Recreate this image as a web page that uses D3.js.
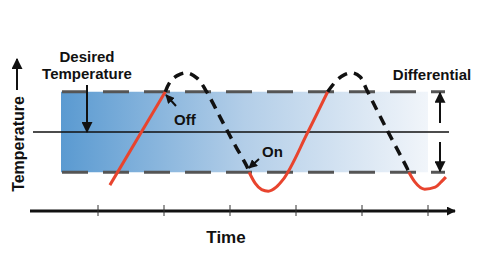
<!DOCTYPE html>
<html>
<head>
<meta charset="utf-8">
<script src="https://cdn.jsdelivr.net/npm/d3@7"></script>
<style>
  body { margin: 0; background: #fff; }
  svg { display: block; font-family: "Liberation Sans", Arial, sans-serif; font-weight: bold; }
</style>
</head>
<body>
<svg id="chart" width="480" height="270"></svg>
<script>
const w = 480;
const h = 270;

// time ticks on the axis
var timeTicks = [1, 2, 3, 4, 5, 6];

// band limits (temperature relative to set point)
var setPoint = 0;
var upperLimit = 1;
var lowerLimit = -1;

// heater on (red) and heater off (black dashed) segments: [time, temperature]
var heatOn1 = [[1.18, -1.32], [2.02, 1.0]];
var heatOff1 = [[2.02, 1.0], [2.09, 1.24], [2.2, 1.4], [2.35, 1.47], [2.5, 1.34], [2.65, 0.99], [2.85, 0.37], [3.05, -0.25], [3.26, -0.87], [3.29, -1.0]];
var heatOn2 = [[3.29, -1.0], [3.38, -1.27], [3.48, -1.43], [3.58, -1.47], [3.7, -1.37], [3.8, -1.19], [4.18, 0], [4.48, 1.0]];
var heatOff2 = [[4.48, 1.0], [4.62, 1.29], [4.73, 1.42], [4.85, 1.47], [4.97, 1.37], [5.08, 1.02], [5.38, 0.05], [5.68, -0.89], [5.71, -1.0]];
var heatOn3 = [[5.71, -1.0], [5.8, -1.24], [5.95, -1.42], [6.11, -1.37], [6.2, -1.24], [6.27, -1.12]];

var x = d3.scaleLinear().domain([0, 6.4]).range([32, 454.4]);
var y = d3.scaleLinear().domain([-1.6, 1.6]).range([196.4, 67.6]);

var svg = d3.select("#chart");

var defs = svg.append("defs");
var grad = defs.append("linearGradient").attr("id", "band").attr("x1", "0%").attr("x2", "100%");
grad.append("stop").attr("offset", "0%").attr("stop-color", "#5a9ad1");
grad.append("stop").attr("offset", "50%").attr("stop-color", "#b3cee8");
grad.append("stop").attr("offset", "100%").attr("stop-color", "#f1f5fa");

function marker(id, size) {
  defs.append("marker")
    .attr("id", id)
    .attr("viewBox", "0 0 10 10")
    .attr("refX", 9)
    .attr("refY", 5)
    .attr("markerUnits", "userSpaceOnUse")
    .attr("markerWidth", size)
    .attr("markerHeight", size)
    .attr("orient", "auto")
    .append("path")
    .attr("d", "M0,0 L10,5 L0,10 Z")
    .attr("fill", "#111");
}
marker("arrow", 11);
marker("arrowSmall", 9);
marker("arrowAxis", 9);

// band
svg.append("rect")
  .attr("x", 61)
  .attr("y", y(upperLimit))
  .attr("width", 428 - 61)
  .attr("height", y(lowerLimit) - y(upperLimit))
  .attr("fill", "url(#band)");

// band limit dashes
svg.selectAll("line.limit")
  .data([upperLimit, lowerLimit])
  .enter()
  .append("line")
  .attr("class", "limit")
  .attr("x1", 62)
  .attr("x2", 445)
  .attr("y1", function (d) { return y(d); })
  .attr("y2", function (d) { return y(d); })
  .attr("stroke", "#555")
  .attr("stroke-width", 3)
  .attr("stroke-dasharray", "26,15");

// set point line
svg.append("line")
  .attr("x1", 33).attr("x2", 449)
  .attr("y1", y(setPoint)).attr("y2", y(setPoint))
  .attr("stroke", "#111")
  .attr("stroke-width", 1.5);

// temperature curves
var line = d3.line()
  .x(function (d) { return x(d[0]); })
  .y(function (d) { return y(d[1]); })
  .curve(d3.curveMonotoneX);

svg.selectAll("path.on")
  .data([heatOn1, heatOn2, heatOn3])
  .enter()
  .append("path")
  .attr("class", "on")
  .attr("d", line)
  .attr("fill", "none")
  .attr("stroke", "#e8442e")
  .attr("stroke-width", 3);

var offLine = d3.line()
  .x(function (d) { return x(d[0]); })
  .y(function (d) { return y(d[1]); })
  .curve(d3.curveCatmullRom);

svg.selectAll("path.off")
  .data([heatOff1, heatOff2])
  .enter()
  .append("path")
  .attr("class", "off")
  .attr("d", offLine)
  .attr("fill", "none")
  .attr("stroke", "#111")
  .attr("stroke-width", 3.5)
  .attr("stroke-dasharray", "10,7");

// time axis
svg.append("line")
  .attr("x1", 30).attr("x2", 455)
  .attr("y1", 211).attr("y2", 211)
  .attr("stroke", "#111")
  .attr("stroke-width", 3)
  .attr("marker-end", "url(#arrowAxis)");

svg.selectAll("line.tick")
  .data(timeTicks)
  .enter()
  .append("line")
  .attr("class", "tick")
  .attr("x1", function (d) { return x(d); })
  .attr("x2", function (d) { return x(d); })
  .attr("y1", 205)
  .attr("y2", 216)
  .attr("stroke", "#333")
  .attr("stroke-width", 1);

svg.append("text")
  .text("Time")
  .attr("x", 226)
  .attr("y", 243)
  .attr("font-size", "17px")
  .attr("text-anchor", "middle")
  .attr("fill", "#111");

// temperature axis label
svg.append("text")
  .text("Temperature")
  .attr("transform", "translate(24,144) rotate(-90)")
  .attr("font-size", "16px")
  .attr("text-anchor", "middle")
  .attr("fill", "#111");

svg.append("line")
  .attr("x1", 17).attr("x2", 17)
  .attr("y1", 90).attr("y2", 59)
  .attr("stroke", "#111")
  .attr("stroke-width", 2)
  .attr("marker-end", "url(#arrow)");

// desired temperature
svg.append("text")
  .attr("font-size", "15px")
  .attr("text-anchor", "middle")
  .attr("fill", "#111")
  .selectAll("tspan")
  .data(["Desired", "Temperature"])
  .enter()
  .append("tspan")
  .attr("x", 87)
  .attr("y", function (d, i) { return 62 + i * 17; })
  .text(function (d) { return d; });

svg.append("line")
  .attr("x1", 87).attr("x2", 87)
  .attr("y1", 85).attr("y2", y(setPoint))
  .attr("stroke", "#111")
  .attr("stroke-width", 2)
  .attr("marker-end", "url(#arrow)");

// off / on labels
svg.append("text").text("Off")
  .attr("x", 174).attr("y", 125)
  .attr("font-size", "15px").attr("fill", "#111");
svg.append("line")
  .attr("x1", 176).attr("y1", 106)
  .attr("x2", 166).attr("y2", 95)
  .attr("stroke", "#111").attr("stroke-width", 2)
  .attr("marker-end", "url(#arrowSmall)");

svg.append("text").text("On")
  .attr("x", 262).attr("y", 157)
  .attr("font-size", "15px").attr("fill", "#111");
svg.append("line")
  .attr("x1", 259).attr("y1", 159)
  .attr("x2", 249).attr("y2", 168)
  .attr("stroke", "#111").attr("stroke-width", 2)
  .attr("marker-end", "url(#arrowSmall)");

// differential
svg.append("text").text("Differential")
  .attr("x", 432).attr("y", 80)
  .attr("font-size", "15px")
  .attr("text-anchor", "middle")
  .attr("fill", "#111");
svg.append("line")
  .attr("x1", 440).attr("x2", 440)
  .attr("y1", 123).attr("y2", y(upperLimit) + 1)
  .attr("stroke", "#111").attr("stroke-width", 2)
  .attr("marker-end", "url(#arrow)");
svg.append("line")
  .attr("x1", 440).attr("x2", 440)
  .attr("y1", 142).attr("y2", y(lowerLimit) - 1)
  .attr("stroke", "#111").attr("stroke-width", 2)
  .attr("marker-end", "url(#arrow)");
</script>
</body>
</html>
